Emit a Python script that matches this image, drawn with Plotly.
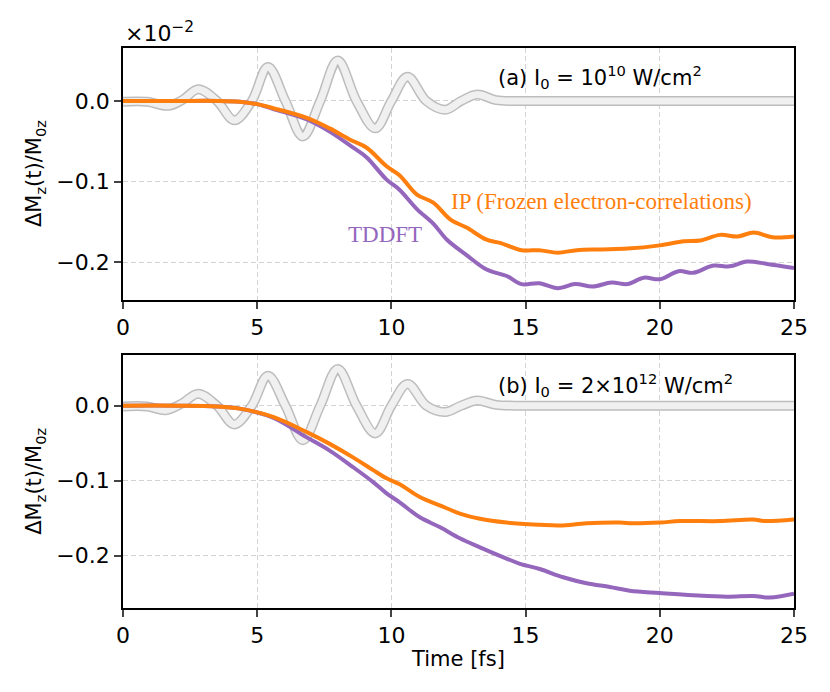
import plotly.graph_objects as go

# laser pulse (drawn as a grey band)
t_pulse_a = [0, 0.9, 1.7, 2.25, 2.8, 3.5, 4.15, 4.8, 5.4, 6.05, 6.7, 7.35, 8.0, 8.7, 9.4,
             10.0, 10.6, 11.3, 12.0, 12.6, 13.2, 13.9, 14.6, 17, 21, 25]
pulse_a = [-0.001, -0.001, -0.006, 0.002, 0.0145, 0, -0.024, 0, 0.042, 0, -0.044, 0, 0.05, 0, -0.034,
           0, 0.03, 0, -0.011, 0, 0.008, 0.001, 0, 0, 0, 0]
t_pulse_b = [0, 0.9, 1.6, 2.2, 2.8, 3.5, 4.15, 4.8, 5.4, 6.05, 6.7, 7.35, 8.0, 8.7, 9.4,
             10.0, 10.6, 11.3, 12.0, 12.6, 13.2, 13.9, 14.6, 17, 21, 25]
pulse_b = [-0.001, -0.001, -0.006, 0.003, 0.016, 0, -0.025, 0, 0.040, 0, -0.046, 0, 0.049, 0, -0.037,
           0, 0.029, 0, -0.0085, 0, 0.007, 0.001, 0, 0, 0, 0]

# (a) I0 = 1e10 W/cm2
t_ip_a = [0, 2, 3.5, 4.35, 5.0, 5.6, 6.85, 7.7, 8.46, 9.08, 9.82, 10.3, 10.95, 11.56, 12.2, 12.8,
          13.55, 14.05, 14.85, 15.5, 16.2, 16.9, 17.8, 18.8, 20.0, 20.9, 21.5, 22.25, 22.9, 23.5, 24.2, 25]
ip_a = [0, 0, 0, -0.001, -0.004, -0.009, -0.021, -0.034, -0.048, -0.058, -0.081, -0.092, -0.116, -0.126,
        -0.147, -0.157, -0.172, -0.176, -0.185, -0.185, -0.188, -0.185, -0.184, -0.183, -0.179, -0.174,
        -0.173, -0.166, -0.168, -0.163, -0.169, -0.168]
t_td_a = [0, 2, 3.5, 4.35, 5.0, 5.6, 6.85, 7.7, 8.58, 9.08, 9.82, 10.3, 10.95, 11.56, 12.07, 12.8, 13.55,
          14.3, 14.85, 15.5, 16.2, 16.85, 17.5, 18.2, 18.8, 19.4, 20.0, 20.7, 21.25, 22.0, 22.6, 23.25, 24.0, 25]
td_a = [0, 0, 0, -0.001, -0.004, -0.010, -0.023, -0.038, -0.058, -0.070, -0.0975, -0.110, -0.134, -0.152,
        -0.172, -0.191, -0.209, -0.217, -0.227, -0.226, -0.232, -0.227, -0.230, -0.225, -0.227, -0.219,
        -0.221, -0.211, -0.213, -0.204, -0.205, -0.199, -0.202, -0.207]

# (b) I0 = 2e12 W/cm2
t_ip_b = [0, 2, 3.5, 4.35, 5.59, 6.83, 7.7, 8.57, 9.32, 9.82, 10.31, 11.06, 11.8, 12.55, 13.3, 14.29,
          15.53, 16.28, 17.27, 18.51, 19.0, 20.0, 20.75, 22.24, 23.48, 23.9, 25]
ip_b = [0, 0, -0.001, -0.004, -0.015, -0.035, -0.051, -0.069, -0.086, -0.097, -0.105, -0.122, -0.133,
        -0.144, -0.151, -0.156, -0.159, -0.160, -0.157, -0.156, -0.157, -0.156, -0.154, -0.154, -0.152,
        -0.154, -0.152]
t_td_b = [0, 2, 3.5, 4.35, 5.59, 6.83, 7.7, 8.57, 9.32, 9.82, 10.31, 11.06, 11.8, 12.55, 13.3, 14.29,
          14.79, 15.53, 16.4, 17.27, 18.14, 18.88, 20.0, 21.24, 22.49, 23.48, 24.1, 25]
td_b = [0, 0, -0.001, -0.004, -0.016, -0.042, -0.060, -0.082, -0.102, -0.117, -0.129, -0.149, -0.162,
        -0.177, -0.189, -0.204, -0.211, -0.218, -0.229, -0.237, -0.242, -0.247, -0.250, -0.253, -0.255,
        -0.254, -0.256, -0.251]

orange = '#ff7f0e'
purple = '#9467bd'
font = 'DejaVu Sans'

fig = go.Figure()

for xa, ya, tp, p, tip, ip, ttd, td in [('x', 'y', t_pulse_a, pulse_a, t_ip_a, ip_a, t_td_a, td_a),
                                        ('x2', 'y2', t_pulse_b, pulse_b, t_ip_b, ip_b, t_td_b, td_b)]:
    fig.add_trace(go.Scatter(x=tp, y=p, xaxis=xa, yaxis=ya, mode='lines', line_shape='spline',
                             line=dict(color='#bdbdbd', width=10), hoverinfo='skip'))
    fig.add_trace(go.Scatter(x=tp, y=p, xaxis=xa, yaxis=ya, mode='lines', line_shape='spline',
                             line=dict(color='#f0f0f0', width=7), hoverinfo='skip'))
    fig.add_trace(go.Scatter(x=ttd, y=td, xaxis=xa, yaxis=ya, mode='lines', line_shape='spline',
                             line=dict(color=purple, width=4), name='TDDFT'))
    fig.add_trace(go.Scatter(x=tip, y=ip, xaxis=xa, yaxis=ya, mode='lines', line_shape='spline',
                             line=dict(color=orange, width=4), name='IP'))

xax = dict(range=[0, 25], tickvals=[0, 5, 10, 15, 20, 25], showline=True, mirror=True,
           linecolor='black', linewidth=1.7, ticks='outside', ticklen=7, tickwidth=1.7,
           showgrid=True, gridcolor='#d3d3d3', griddash='5px,3px', gridwidth=1.2, zeroline=False,
           tickfont=dict(family=font, size=22, color='black'))
yax = dict(tickvals=[0, -0.1, -0.2], tickformat='.1f', showline=True, mirror=True,
           linecolor='black', linewidth=1.7, ticks='outside', ticklen=7, tickwidth=1.7,
           showgrid=True, gridcolor='#d3d3d3', griddash='5px,3px', gridwidth=1.2, zeroline=False,
           tickfont=dict(family=font, size=22, color='black'))

# page has an 8px body margin, so the figure is drawn 8px smaller
fig.update_layout(
    width=822, height=684, showlegend=False,
    paper_bgcolor='white', plot_bgcolor='white',
    margin=dict(l=115, r=36, t=40, b=84),
    xaxis=dict(xax, anchor='y'),
    yaxis=dict(yax, domain=[0.55, 1], range=[-0.2467, 0.0656], anchor='x'),
    xaxis2=dict(xax, anchor='y2', title=dict(text='Time [fs]', standoff=4,
                                             font=dict(family=font, size=21, color='black'))),
    yaxis2=dict(yax, domain=[0, 0.451], range=[-0.270, 0.067], anchor='x2'),
)

ylab = 'ΔM<sub>z</sub>(t)/M<sub>0z</sub>'
anns = [
    dict(text=ylab, xref='paper', yref='y domain', x=-0.131, y=0.5, xanchor='center', yanchor='middle',
         textangle=-90, showarrow=False, font=dict(family=font, size=21, color='black')),
    dict(text=ylab, xref='paper', yref='y2 domain', x=-0.131, y=0.5, xanchor='center', yanchor='middle',
         textangle=-90, showarrow=False, font=dict(family=font, size=21, color='black')),
    dict(text='×10<sup>−2</sup>', xref='paper', yref='paper', x=0, y=1, xanchor='left', yanchor='bottom',
         showarrow=False, font=dict(family=font, size=22, color='black')),
    dict(text='(a) I<sub>0</sub> = 10<sup>10</sup> W/cm<sup>2</sup>', xref='x', yref='y', x=13.9, y=0.030,
         xanchor='left', showarrow=False, font=dict(family=font, size=21, color='black')),
    dict(text='(b) I<sub>0</sub> = 2×10<sup>12</sup> W/cm<sup>2</sup>', xref='x2', yref='y2', x=13.9, y=0.027,
         xanchor='left', showarrow=False, font=dict(family=font, size=21, color='black')),
    dict(text='IP (Frozen electron-correlations)', xref='x', yref='y', x=17.84, y=-0.125, showarrow=False,
         font=dict(family='Liberation Serif', size=23, color=orange)),
    dict(text='TDDFT', xref='x', yref='y', x=9.75, y=-0.165, showarrow=False,
         font=dict(family='Liberation Serif', size=23, color=purple)),
]
fig.update_layout(annotations=anns)

fig.write_html('out.html')
